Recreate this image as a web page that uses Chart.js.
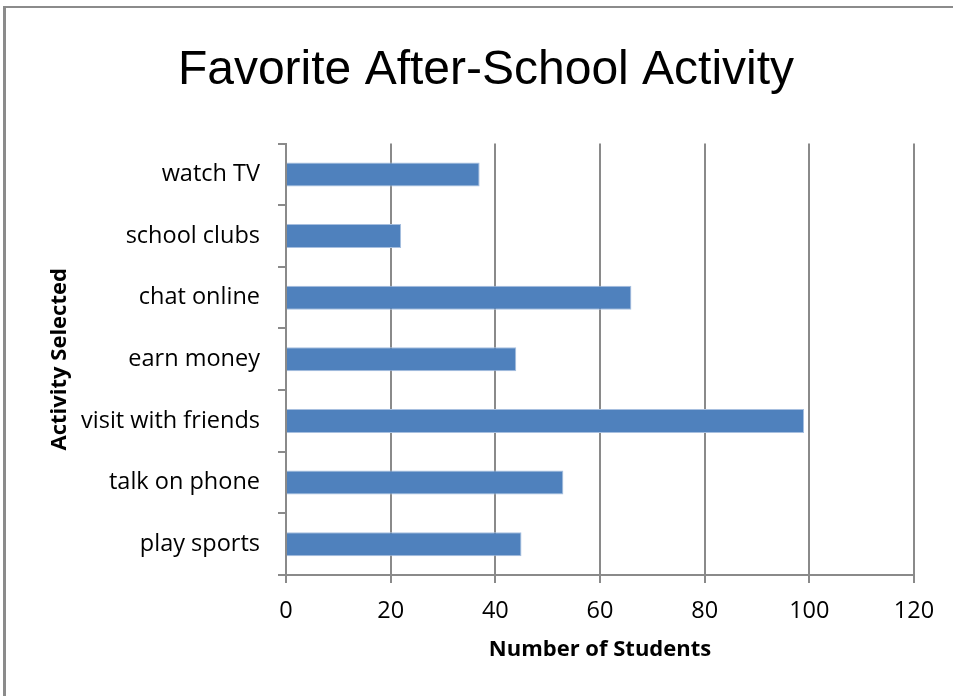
<!DOCTYPE html>
<html>
<head>
<meta charset="utf-8">
<script src="https://cdn.jsdelivr.net/npm/chart.js@4/dist/chart.umd.min.js"></script>
<style>
  html, body { margin: 0; padding: 0; background: #fff; overflow: hidden; }
  #wrap { position: relative; width: 953px; height: 696px; }
  #frame { position: absolute; left: 3px; top: 6px; width: 2000px; height: 2000px;
           border-left: 3px solid #8b8b8b; border-top: 2px solid #8b8b8b; }
  #chart { position: absolute; left: 0; top: 0; }
</style>
</head>
<body>
<div id="wrap">
  <div id="frame"></div>
  <canvas id="chart" width="953" height="696"></canvas>
</div>
<script>
/* favorite after-school activity */
const activities = ['watch TV', 'school clubs', 'chat online', 'earn money', 'visit with friends', 'talk on phone', 'play sports'];
const students = [37, 22, 66, 44, 99, 53, 45];
const xTicks = [0, 20, 40, 60, 80, 100, 120];

const gridGray = '#8a8a8a';
const labelFont = { family: 'Open Sans', size: 23.5 };
const titleFont = { family: 'Open Sans', size: 22, weight: 'bold' };

new Chart(document.getElementById('chart'), {
  type: 'bar',
  data: {
    labels: activities,
    datasets: [{
      label: 'Number of Students',
      data: students,
      backgroundColor: '#4f81bd',
      borderColor: '#a7bfdf',
      borderWidth: 1,
      barPercentage: 0.39,
      categoryPercentage: 1
    }]
  },
  options: {
    indexAxis: 'y',
    responsive: false,
    animation: false,
    layout: { padding: { left: 58, right: 39, top: 0, bottom: 0 } },
    plugins: {
      legend: { display: false },
      tooltip: { enabled: false },
      title: {
        display: true,
        text: 'Favorite After-School Activity',
        color: '#000',
        font: { family: 'Liberation Sans', size: 48, weight: 'normal' },
        padding: { top: 42, bottom: 44 }
      }
    },
    scales: {
      x: {
        min: 0,
        max: 120,
        afterBuildTicks: s => { s.ticks = xTicks.map(v => ({ value: v })); },
        afterFit: s => { s.height = 121; },
        grid: { color: gridGray, lineWidth: 2, tickLength: 8, drawTicks: true },
        border: { color: gridGray, width: 2 },
        ticks: { color: '#000', font: labelFont, padding: 14 },
        title: {
          display: true,
          text: 'Number of Students',
          color: '#000',
          font: titleFont,
          padding: { top: 0, bottom: 33 }
        }
      },
      y: {
        afterFit: s => { s.width = 228; },
        grid: { color: gridGray, lineWidth: 2, tickLength: 8, drawOnChartArea: false, offset: true },
        border: { color: gridGray, width: 2 },
        ticks: { color: '#000', font: labelFont, padding: 18 },
        title: {
          display: true,
          text: 'Activity Selected',
          color: '#000',
          font: titleFont,
          padding: { top: -11, bottom: 0 }
        }
      }
    }
  }
});
</script>
</body>
</html>
